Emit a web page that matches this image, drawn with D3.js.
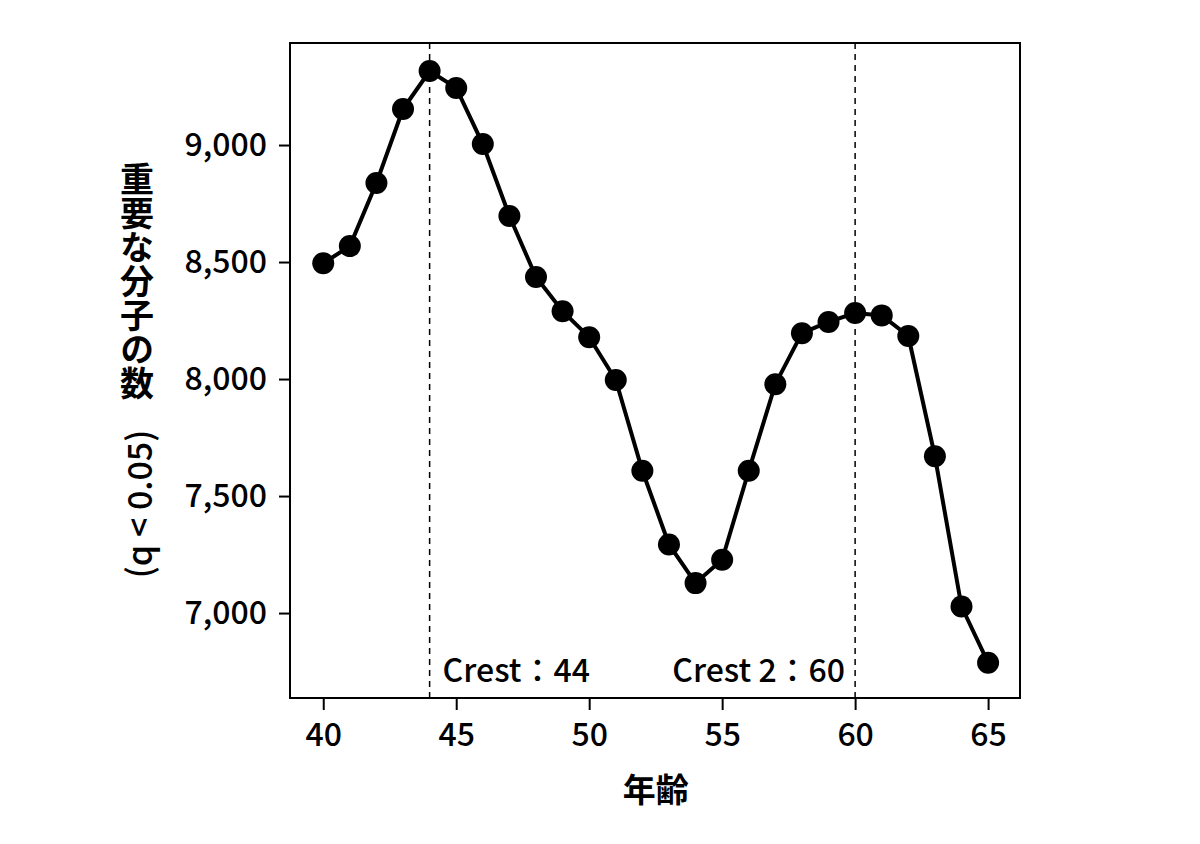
<!DOCTYPE html>
<html>
<head>
  <meta charset="utf-8">
  <script src="https://d3js.org/d3.v7.min.js"></script>
  <style>
    body { margin: 0; background: #fff; }
    text { font-family: "Noto Sans CJK JP", "Noto Sans", sans-serif; fill: #000; }
  </style>
</head>
<body>
  <svg id="chart" width="1200" height="844"></svg>
  <script>
    // ages and number of significant molecules
    const ages = [40, 41, 42, 43, 44, 45, 46, 47, 48, 49, 50, 51, 52,
                  53, 54, 55, 56, 57, 58, 59, 60, 61, 62, 63, 64, 65];
    const counts = [8495, 8568, 8838, 9154, 9316, 9244, 9004, 8697, 8436, 8290, 8179, 7996, 7608,
                    7293, 7128, 7228, 7608, 7978, 8196, 8244, 8282, 8272, 8184, 7670, 7028, 6788];
    const xTicks = [40, 45, 50, 55, 60, 65];
    const yTicks = [7000, 7500, 8000, 8500, 9000];
    const crests = [{ age: 44, label: "Crest：44", side: "right" },
                    { age: 60, label: "Crest 2：60", side: "left" }];

    const svg = d3.select("#chart");
    const margin = { top: 43, right: 180, bottom: 146, left: 290 };
    const width = 1200 - margin.left - margin.right;
    const height = 844 - margin.top - margin.bottom;
    const g = svg.append("g")
      .attr("transform", "translate(" + margin.left + "," + margin.top + ")");

    const x = d3.scaleLinear().domain([38.75, 66.2]).range([0, width]);
    const y = d3.scaleLinear().domain([6637, 9436]).range([height, 0]);

    // axes
    const xAxis = g.append("g")
      .attr("transform", "translate(0," + height + ")")
      .call(d3.axisBottom(x).tickValues(xTicks).tickSize(12).tickPadding(13).tickFormat(d3.format("d")));
    const yAxis = g.append("g")
      .call(d3.axisLeft(y).tickValues(yTicks).tickSize(11).tickPadding(12).tickFormat(d3.format(",")));

    [xAxis, yAxis].forEach(a => {
      a.select(".domain").remove();
      a.selectAll("line").attr("stroke", "#000").attr("stroke-width", 2);
      a.selectAll("text").style("font-size", "32px").style("font-weight", 500).attr("fill", "#000");
    });

    // frame
    g.append("rect")
      .attr("width", width).attr("height", height)
      .attr("fill", "none").attr("stroke", "#000").attr("stroke-width", 2);

    // crest lines
    g.selectAll(".crest").data(crests)
      .join("line")
      .attr("class", "crest")
      .attr("x1", d => x(d.age)).attr("x2", d => x(d.age))
      .attr("y1", 0).attr("y2", height)
      .attr("stroke", "#000").attr("stroke-width", 1.5)
      .attr("stroke-dasharray", "6,5");

    g.selectAll(".crest-label").data(crests)
      .join("text")
      .attr("class", "crest-label")
      .attr("x", d => d.side === "right" ? x(d.age) + 13 : x(d.age) - 10)
      .attr("y", height - 16)
      .attr("text-anchor", d => d.side === "right" ? "start" : "end")
      .style("font-size", "32px")
      .style("font-weight", 500)
      .text(d => d.label);

    // line + points
    const data = ages.map((a, i) => ({ age: a, count: counts[i] }));
    const line = d3.line().x(d => x(d.age)).y(d => y(d.count));

    g.append("path")
      .datum(data)
      .attr("d", line)
      .attr("fill", "none")
      .attr("stroke", "#000")
      .attr("stroke-width", 4);

    g.selectAll("circle").data(data)
      .join("circle")
      .attr("cx", d => x(d.age))
      .attr("cy", d => y(d.count))
      .attr("r", 11)
      .attr("fill", "#000");

    // axis titles
    svg.append("text")
      .attr("x", margin.left + x(52.5))
      .attr("y", 802)
      .attr("text-anchor", "middle")
      .style("font-size", "33px")
      .style("font-weight", "bold")
      .text("年齢");

    // y title: upright kanji, then rotated "(q < 0.05)"
    svg.append("text")
      .attr("x", 137)
      .attr("y", 162)
      .style("writing-mode", "vertical-rl")
      .style("font-size", "34px")
      .style("font-weight", "bold")
      .text("重要な分子の数");

    svg.append("text")
      .attr("transform", "translate(137,504) rotate(-90)")
      .attr("text-anchor", "middle")
      .attr("dominant-baseline", "central")
      .style("font-size", "34px")
      .style("font-weight", 500)
      .text("(q < 0.05)");
  </script>
</body>
</html>
